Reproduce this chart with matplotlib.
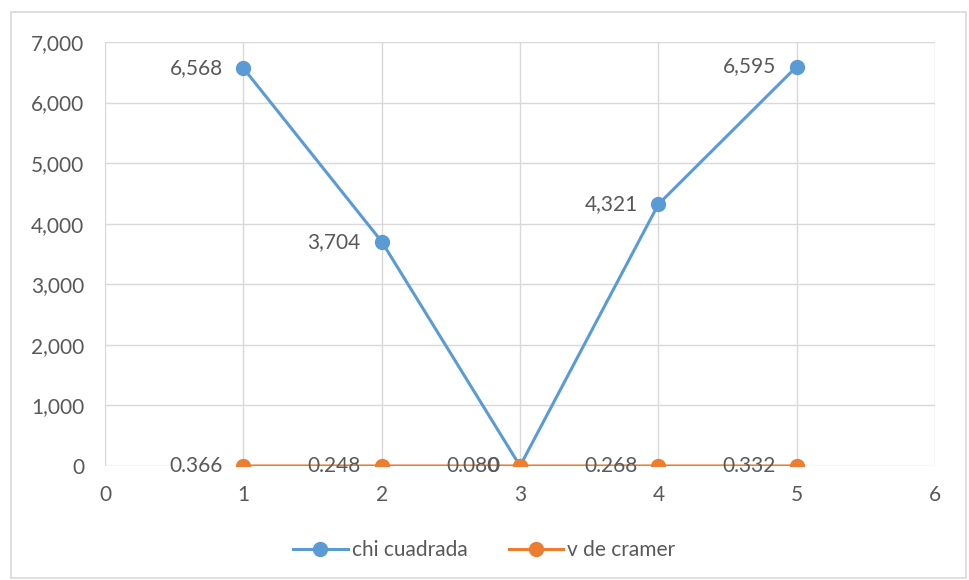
import matplotlib.pyplot as plt
import matplotlib.ticker as mtick
from matplotlib.patches import Rectangle

plt.rcParams['font.family'] = ['Lato', 'DejaVu Sans']
text_col = '#595959'
grid_col = '#d9d9d9'

x = [1, 2, 3, 4, 5]
chi = [6568, 3704, 0, 4321, 6595]
chi_labels = ['6,568', '3,704', '0', '4,321', '6,595']
cramer = [0.366, 0.248, 0.080, 0.268, 0.332]
cramer_labels = ['0.366', '0.248', '0.080', '0.268', '0.332']

fs = 15

fig = plt.figure(figsize=(9.69, 5.8), dpi=100)
ax = fig.add_axes([0.1084, 0.1966, 0.8566, 0.731])

# light frame around the whole chart
fig.patches.append(Rectangle((0.011, 0.004), 0.986, 0.975, transform=fig.transFigure,
                             fill=False, edgecolor='#d9d9d9', linewidth=1.2))

ax.plot(x, chi, color='#5B9BD5', linewidth=2.2, marker='o', markersize=10,
        label='chi cuadrada', zorder=3)
ax.plot(x, cramer, color='#ED7D31', linewidth=2.2, marker='o', markersize=10,
        label='v de cramer', zorder=3)

for xi, yi, t in zip(x, chi, chi_labels):
    ax.annotate(t, (xi, yi), xytext=(-15, 0), textcoords='offset points',
                ha='right', va='center', fontsize=fs, color=text_col)
for xi, yi, t in zip(x, cramer, cramer_labels):
    ax.annotate(t, (xi, yi), xytext=(-15, 0), textcoords='offset points',
                ha='right', va='center', fontsize=fs, color=text_col)

ax.set_xlim(0, 6)
ax.set_ylim(0, 7000)
ax.set_yticks(range(0, 7001, 1000))
ax.set_xticks(range(0, 7))
ax.yaxis.set_major_formatter(mtick.StrMethodFormatter('{x:,.0f}'))
ax.grid(True, color=grid_col, linewidth=1)
ax.set_axisbelow(True)
for s in ax.spines.values():
    s.set_visible(False)
ax.tick_params(length=0, labelsize=fs, colors=text_col, pad=15)
ax.tick_params(axis='x', pad=14)

leg = fig.legend(loc='center', bbox_to_anchor=(0.5, 0.052), ncol=2, frameon=False,
                 fontsize=fs, labelcolor=text_col, handlelength=2.6,
                 handletextpad=0.2, columnspacing=2.0)

fig.savefig('out.png', dpi=100)
